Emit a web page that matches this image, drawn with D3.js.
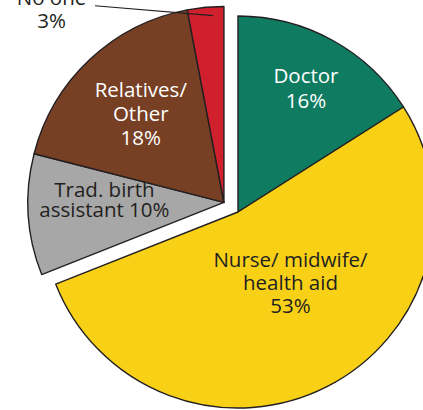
<!DOCTYPE html>
<html>
<head>
<meta charset="utf-8">
<script src="https://cdn.jsdelivr.net/npm/d3@7"></script>
<style>
  body { margin: 0; background: #fff; }
  svg { display: block; }
  text { font-family: "Open Sans", sans-serif; }
</style>
</head>
<body>
<div id="chart"></div>
<script>
// who assisted at delivery (%)
const categories = ["Doctor", "Nurse/ midwife/ health aid", "Trad. birth assistant", "Relatives/ Other", "No one"];
const values = [16, 53, 10, 18, 3];
const labelLines = [
    ["Doctor", "16%"],
    ["Nurse/ midwife/", "health aid", "53%"],
    ["Trad. birth", "assistant 10%"],
    ["Relatives/", "Other", "18%"],
    ["No one", "3%"]
];
const pulledOut = [false, false, true, true, true];

const WIDTH = 423;
const HEIGHT = 410;
const R = 196;
const EXPLODE = 17;
const FONT = 20.5;

const colors = ["#0f7b61", "#f8d117", "#a7a7a7", "#773f24", "#d0202e"];
const textColors = ["#fff", "#231f20", "#231f20", "#fff", "#231f20"];
// label placement: radius as share of R, t = position across the slice angle
const labelPlace = [
    { r: 0.72, t: 0.5, lh: 25 },
    { r: 0.45, t: 0.45, lh: 23 },
    { r: 0.61, t: 0.64, lh: 20 },
    { r: 0.62, t: 0.5, lh: 24 },
    { r: 1.32, t: -2.87, lh: 23 }
];

const data = categories.map((c, i) => ({ name: c, value: values[i], lines: labelLines[i], out: pulledOut[i], i }));

const svg = d3.select("#chart")
    .append("svg")
        .attr("width", WIDTH)
        .attr("height", HEIGHT);

const g = svg.append("g")
    .attr("transform", `translate(238,${HEIGHT - 2 - R})`);

const pie = d3.pie().value(d => d.value).sort(null);
const arcs = pie(data);
const arc = d3.arc().innerRadius(0).outerRadius(R);

// offset for the pulled-out group, along its middle angle
const outArcs = arcs.filter(a => a.data.out);
const midOut = (d3.min(outArcs, a => a.startAngle) + d3.max(outArcs, a => a.endAngle)) / 2;
const ox = Math.sin(midOut) * EXPLODE;
const oy = -Math.cos(midOut) * EXPLODE;

const polar = (a, r) => [Math.sin(a) * r, -Math.cos(a) * r];

const slices = g.selectAll("g.slice")
    .data(arcs)
    .enter()
    .append("g")
        .attr("class", "slice")
        .attr("transform", d => d.data.out ? `translate(${ox},${oy})` : null);

slices.append("path")
    .attr("d", arc)
    .attr("fill", d => colors[d.data.i])
    .attr("stroke", "#231f20")
    .attr("stroke-width", 1.4)
    .attr("stroke-linejoin", "round");

// leader for the small slice
const small = arcs[4];
const p1 = polar(small.startAngle + 0.69 * (small.endAngle - small.startAngle), R * 0.955);
const p0 = polar(small.startAngle - 2.08 * (small.endAngle - small.startAngle), R * 1.2);
slices.filter(d => d.data.i === 4)
    .append("line")
        .attr("x1", p0[0]).attr("y1", p0[1])
        .attr("x2", p1[0]).attr("y2", p1[1])
        .attr("stroke", "#231f20")
        .attr("stroke-width", 1.1);

slices.each(function(d) {
    const lp = labelPlace[d.data.i];
    const a = d.startAngle + lp.t * (d.endAngle - d.startAngle);
    const [x, y] = polar(a, R * lp.r);
    const n = d.data.lines.length;
    const t = d3.select(this).append("text")
        .attr("text-anchor", "middle")
        .attr("fill", textColors[d.data.i])
        .attr("font-size", FONT)
        .attr("x", x)
        .attr("y", y - (n - 1) * lp.lh / 2 + FONT * 0.35);
    d.data.lines.forEach((line, k) => {
        t.append("tspan")
            .attr("x", x)
            .attr("dy", k === 0 ? 0 : lp.lh)
            .text(line);
    });
});
</script>
</body>
</html>
